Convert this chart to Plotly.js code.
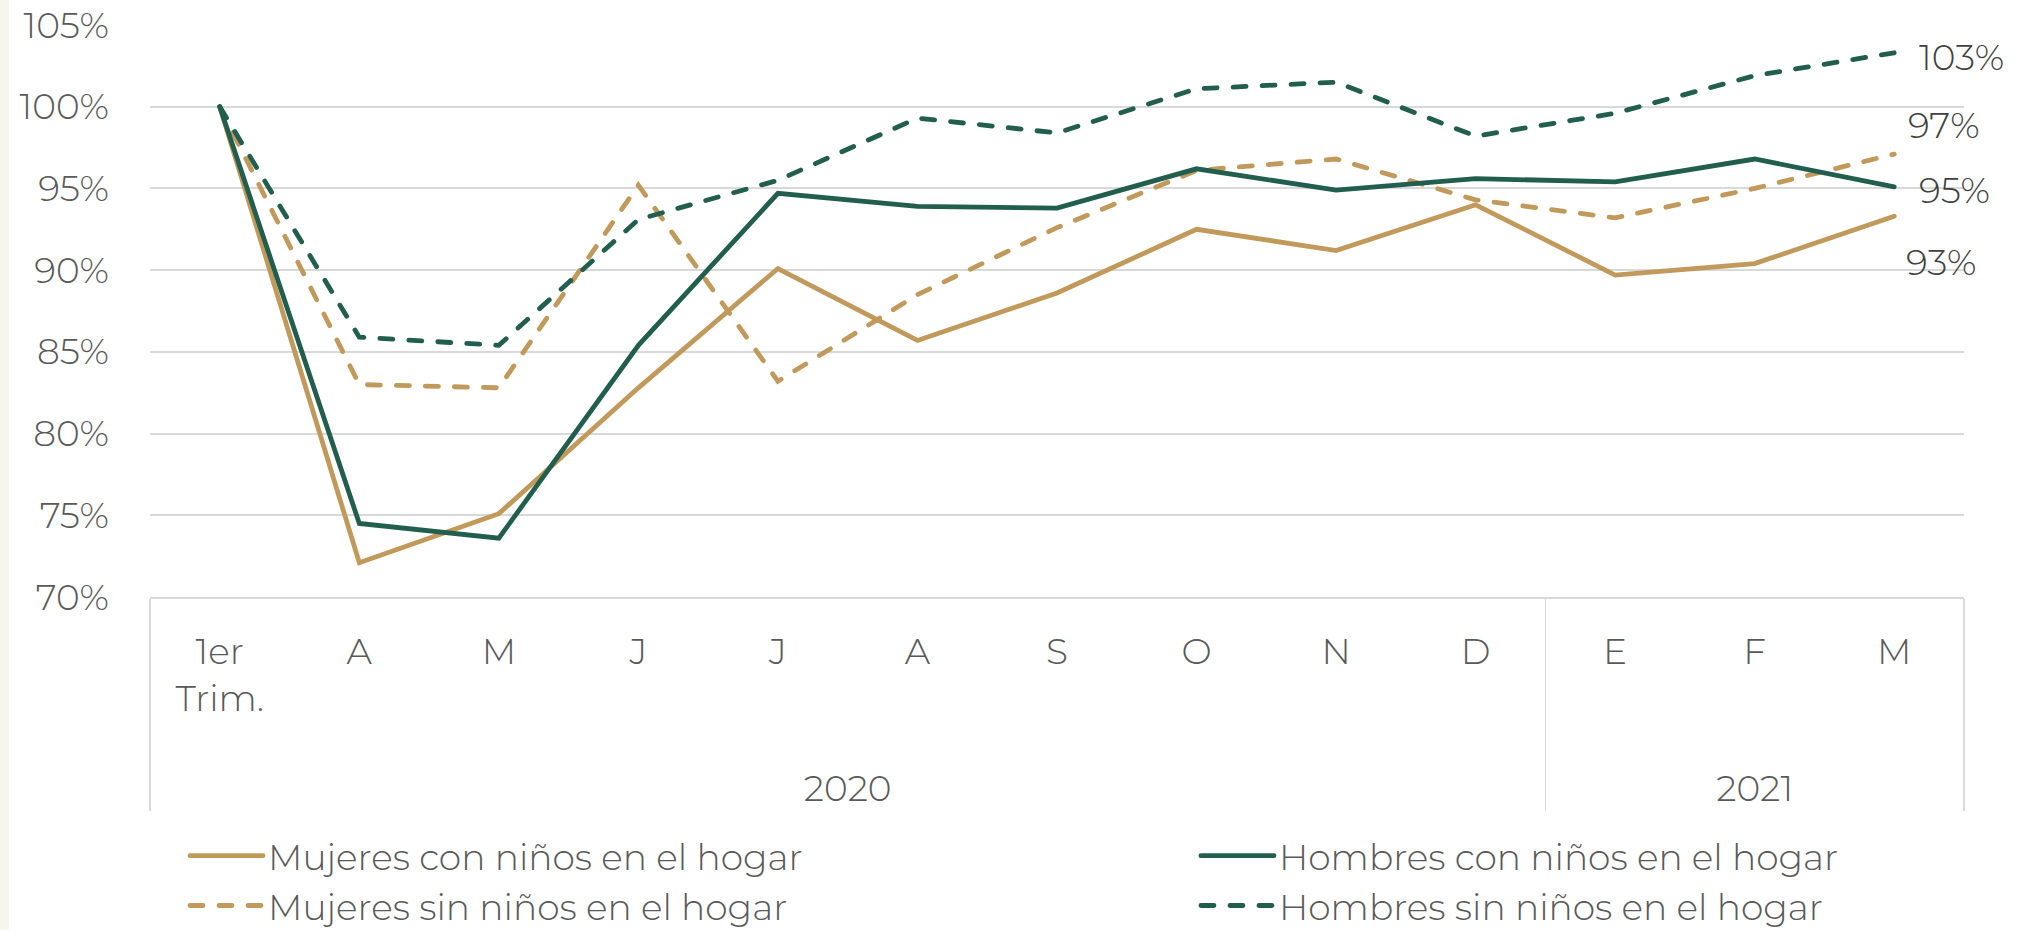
<!DOCTYPE html>
<html>
<head>
<meta charset="utf-8">
<script src="https://cdn.plot.ly/plotly-3.0.1.min.js"></script>
<style>
html,body{margin:0;padding:0;background:#fff;}
#chart{width:2022px;height:930px;}
#chart path.js-line{stroke-linecap:round;}
</style>
</head>
<body>
<div id="chart"></div>
<script>
// Category labels (two-level axis: year / month)
var years = ['2020','2020','2020','2020','2020','2020','2020','2020','2020','2020','2021','2021','2021'];
// zero-width spaces keep repeated month letters distinct (multicategory keys);
// the trailing blank line of the first label sets the gap to the year row
var months = ['1er<br>Trim.<br><span style="font-size:110px">\u00a0</span>','A','M','J','J\u200b','A\u200b','S','O','N','D','E','F','M\u200b'];

// Series values (% of 1st quarter level)
var mujeresCon = [100, 72.1, 75.1, 82.8, 90.1, 85.7, 88.6, 92.5, 91.2, 94.0, 89.7, 90.4, 93.3];
var hombresCon = [100, 74.5, 73.6, 85.4, 94.7, 93.9, 93.8, 96.2, 94.9, 95.6, 95.4, 96.8, 95.1];
var mujeresSin = [100, 83.0, 82.8, 95.2, 83.2, 88.5, 92.6, 96.1, 96.8, 94.3, 93.2, 95.0, 97.1];
var hombresSin = [100, 85.9, 85.4, 93.1, 95.5, 99.3, 98.4, 101.1, 101.5, 98.2, 99.6, 101.9, 103.3];

var names = ['Mujeres con niños en el hogar','Hombres con niños en el hogar','Mujeres sin niños en el hogar','Hombres sin niños en el hogar'];
var yTicks = [70, 75, 80, 85, 90, 95, 100, 105];

var TAN = '#C19A5B', GREEN = '#225E4E';
var FONT = 'Montserrat, "Open Sans", Lato, sans-serif';
var TXT = '#595959';
var DASH = '13px,16px';

function tr(y, name, color, dash, leg){
  return {type:'scatter', mode:'lines', x:[years, months], y:y, name:name, legend:leg,
    line:{color:color, width:4.8, dash:dash}, hoverinfo:'skip'};
}
var data = [
  tr(mujeresCon, names[0], TAN, 'solid', 'legend'),
  tr(mujeresSin, names[2], TAN, DASH, 'legend'),
  tr(hombresCon, names[1], GREEN, 'solid', 'legend2'),
  tr(hombresSin, names[3], GREEN, DASH, 'legend2')
];

var last = months.length - 1;
var endSeries = [
  {y: hombresSin, xs: 23, ys: -4},
  {y: mujeresSin, xs: 12, ys: 29},
  {y: hombresCon, xs: 23, ys: -3},
  {y: mujeresCon, xs: 10, ys: -46}
];
var annotations = endSeries.map(function(s){
  var v = s.y[s.y.length-1];
  return {x: last, y: v, xref:'x', yref:'y', text: Math.round(v)+'%', showarrow:false,
    xanchor:'left', yanchor:'middle', xshift:s.xs, yshift:s.ys,
    font:{family:FONT, size:36, color:'#404040', weight:300}};
});

function legendCfg(x){
  return {orientation:'v', x:x, xanchor:'left', y:-0.40, yanchor:'top',
    itemwidth:73, tracegroupgap:0, bgcolor:'rgba(0,0,0,0)',
    font:{family:FONT, size:36, color:TXT, weight:300}};
}

var layout = {
  width:2022, height:930,
  margin:{l:150, r:58, t:25, b:333, autoexpand:false},
  paper_bgcolor:'#ffffff', plot_bgcolor:'#ffffff',
  font:{family:FONT, size:36, color:TXT, weight:300},
  showlegend:true,
  legend:legendCfg(0.0193),
  legend2:legendCfg(0.5766),
  xaxis:{type:'multicategory', range:[-0.5, months.length - 0.5],
    showdividers:true, dividercolor:'#d9d9d9', dividerwidth:1.5,
    showline:true, linecolor:'#d9d9d9', linewidth:2, showgrid:false, zeroline:false,
    ticks:'', ticklabelstandoff:22,
    tickfont:{family:FONT, size:36, color:TXT, weight:300}, fixedrange:true},
  yaxis:{range:[yTicks[0], yTicks[yTicks.length-1]], tickmode:'array', tickvals:yTicks,
    ticktext:yTicks.map(function(v){return v+'%';}),
    showgrid:true, gridcolor:'#d9d9d9', gridwidth:2, zeroline:false, showline:false,
    ticks:'', ticklabelstandoff:40,
    tickfont:{family:FONT, size:36, color:TXT, weight:300}, fixedrange:true},
  annotations:annotations,
  shapes:[{type:'rect', xref:'paper', yref:'paper', xsizemode:'pixel', ysizemode:'scaled',
    xanchor:0, x0:-150, x1:-141, y0:-0.6, y1:1.05, fillcolor:'#f8f5ee', line:{width:0}, layer:'below'}]
};

Plotly.newPlot('chart', data, layout, {displayModeBar:false, staticPlot:true});
</script>
</body>
</html>
